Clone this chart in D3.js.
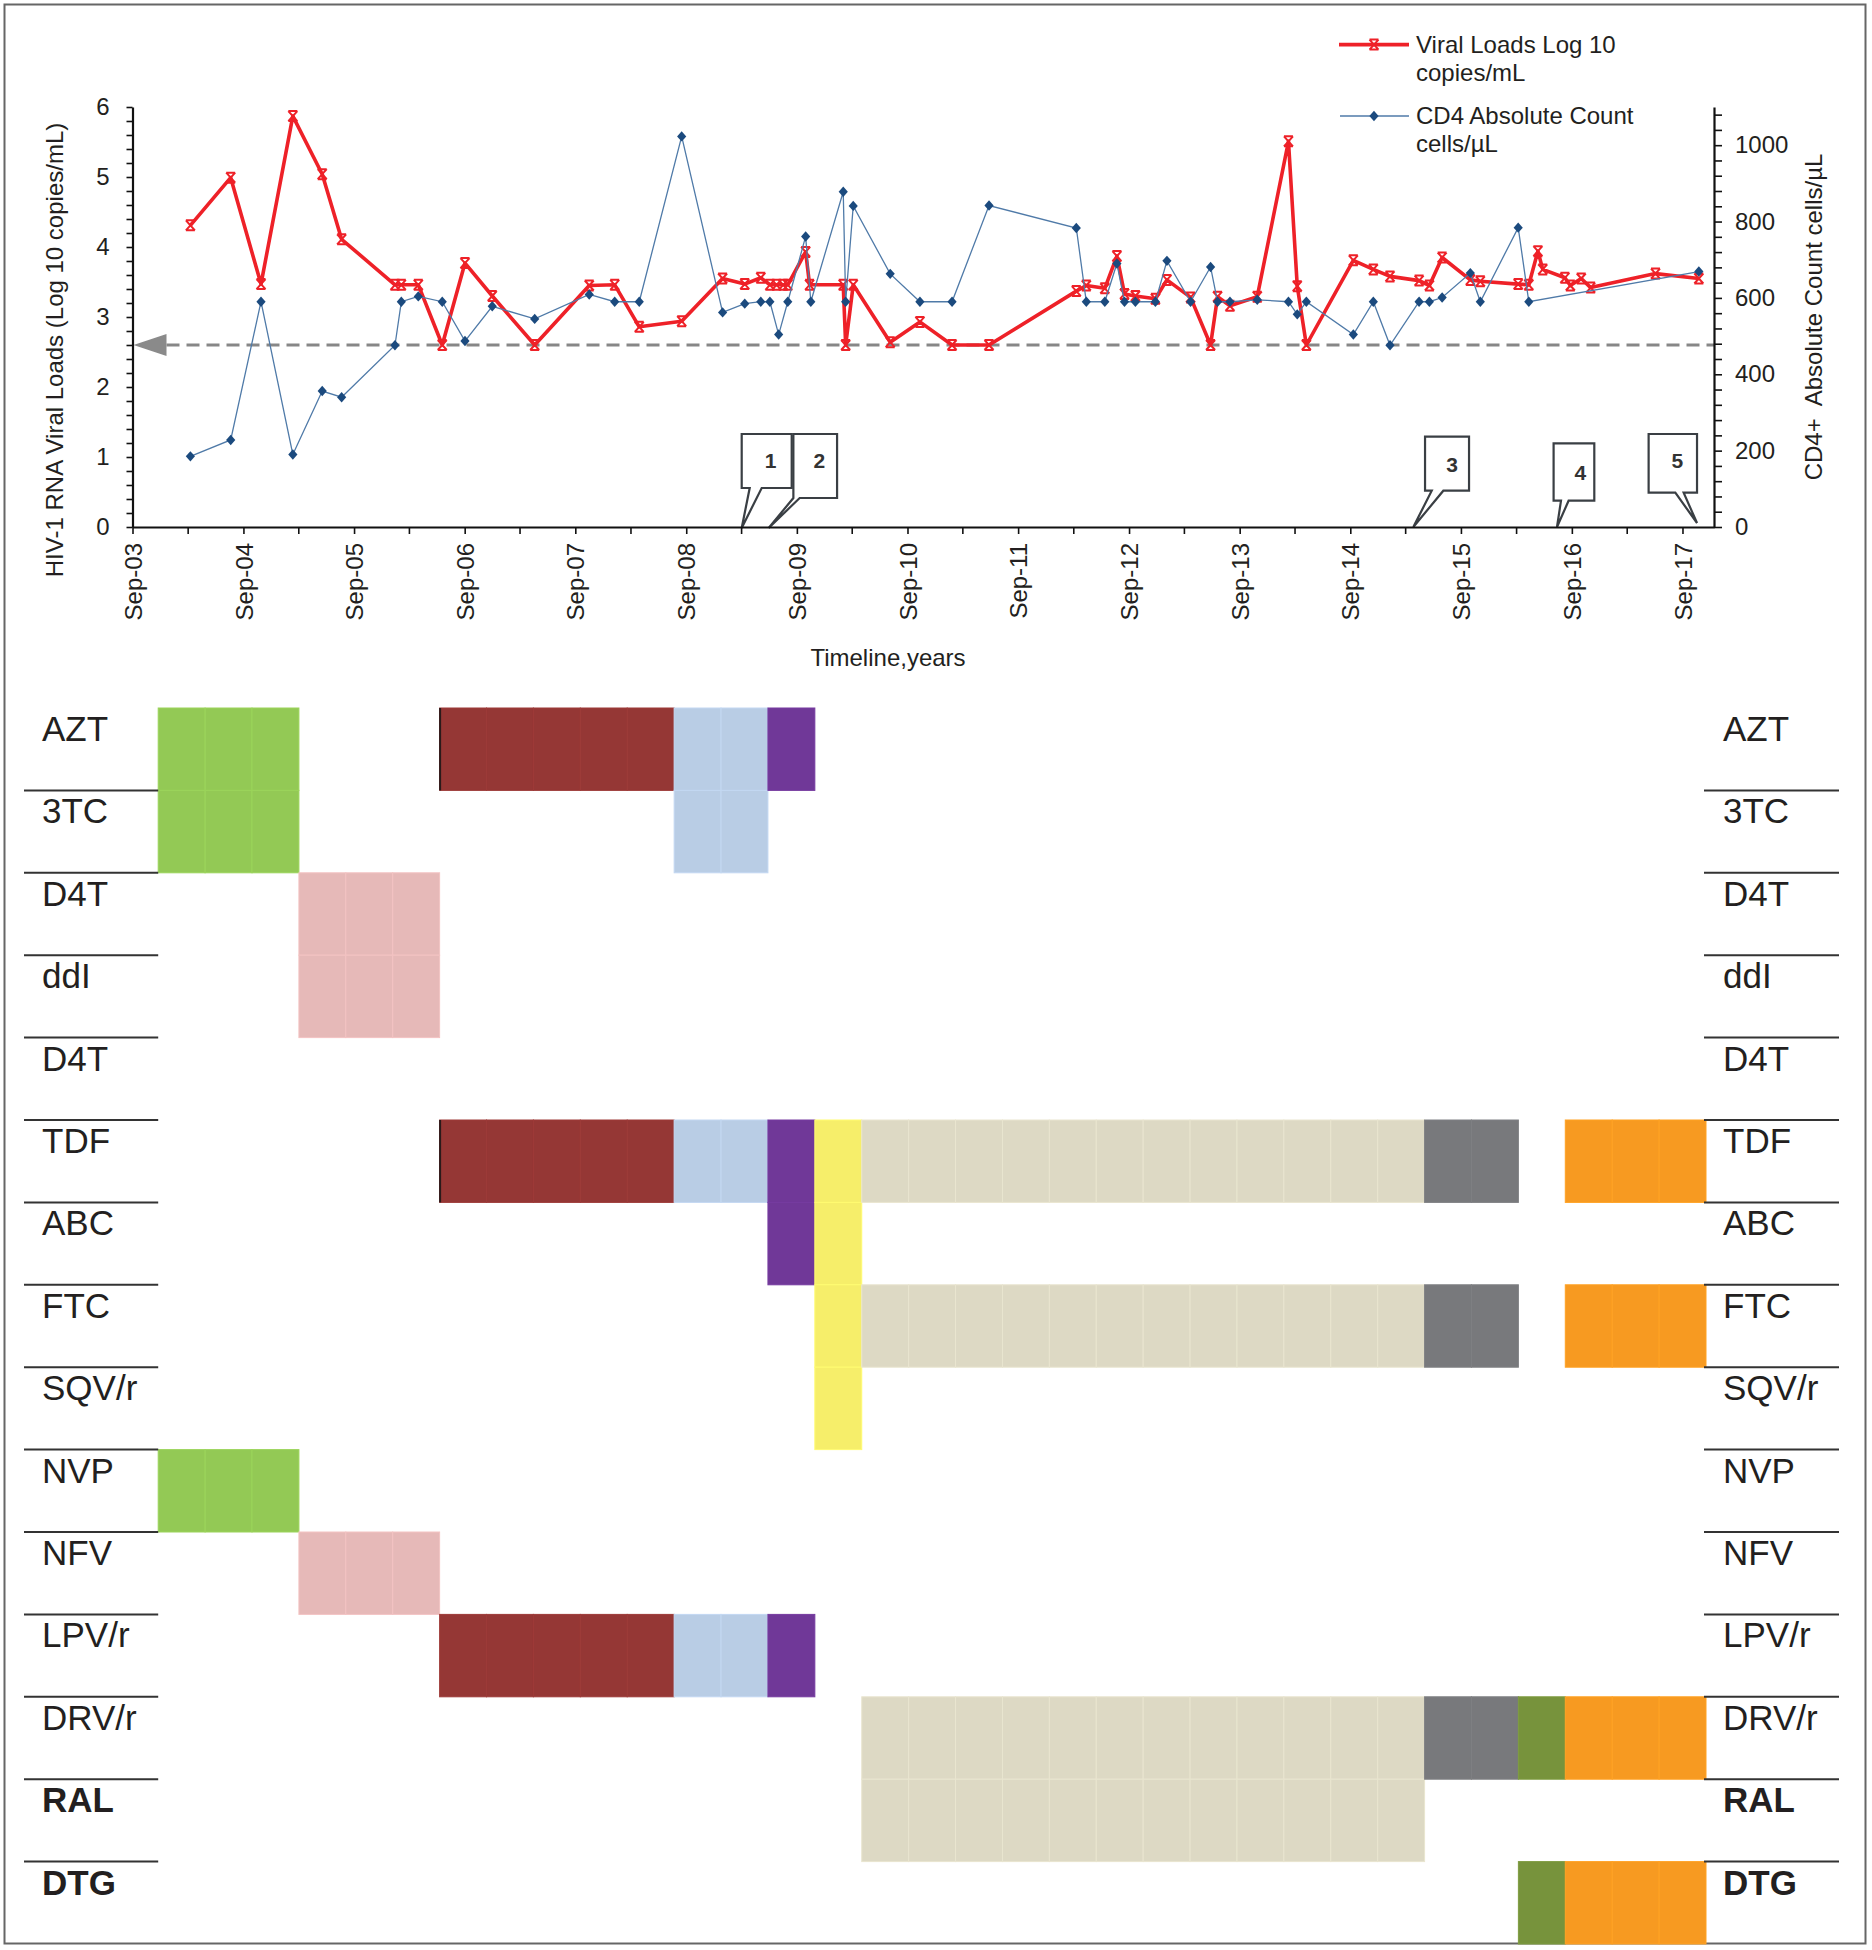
<!DOCTYPE html>
<html>
<head>
<meta charset="utf-8">
<script src="https://cdn.jsdelivr.net/npm/d3@7/dist/d3.min.js"></script>
<style>
  body { margin: 0; background: #fff; }
  svg { display: block; font-family: "Liberation Sans", Arial, sans-serif; }
</style>
</head>
<body>
<div id="chart"></div>
<script>
// viral load (log10 copies/mL), left axis
const vlDates = ["2004-03-10","2004-07-21","2004-10-29","2005-02-11","2005-05-19","2005-07-22","2006-01-14","2006-02-04","2006-04-01","2006-06-19",
  "2006-09-02","2006-12-01","2007-04-20","2007-10-17","2008-01-09","2008-03-30","2008-08-17","2008-12-30","2009-03-13","2009-05-05",
  "2009-06-04","2009-06-26","2009-07-18","2009-08-02","2009-09-30","2009-10-13","2010-02-01","2010-02-09","2010-03-06","2010-07-06",
  "2010-10-12","2011-01-26","2011-05-28","2012-03-11","2012-04-13","2012-06-13","2012-07-23","2012-08-17","2012-09-22","2012-11-27",
  "2013-01-04","2013-03-23","2013-05-28","2013-06-20","2013-07-31","2013-10-29","2014-02-09","2014-03-10","2014-04-09","2014-09-11",
  "2014-11-16","2015-01-10","2015-04-16","2015-05-20","2015-07-01","2015-10-02","2015-11-04","2016-03-08","2016-04-12","2016-05-12",
  "2016-05-28","2016-08-09","2016-08-27","2016-10-02","2016-11-02","2017-06-04","2017-10-25"];
const vlValues = [4.31,4.99,3.47,5.87,5.04,4.11,3.46,3.46,3.46,2.6,
  3.77,3.30,2.6,3.45,3.46,2.86,2.94,3.55,3.47,3.56,
  3.46,3.46,3.46,3.46,3.93,3.46,3.46,2.6,3.46,2.64,
  2.93,2.6,2.6,3.37,3.45,3.41,3.87,3.33,3.30,3.26,
  3.53,3.28,2.6,3.29,3.16,3.29,5.51,3.44,2.6,3.81,
  3.68,3.58,3.52,3.45,3.85,3.53,3.51,3.47,3.46,3.94,
  3.68,3.56,3.45,3.55,3.42,3.62,3.55];

// CD4 absolute count (cells/uL), right axis
const cd4Dates = ["2004-03-10","2004-07-21","2004-10-29","2005-02-11","2005-05-19","2005-07-22","2006-01-14","2006-02-04","2006-04-01","2006-06-19",
  "2006-09-02","2006-12-01","2007-04-20","2007-10-17","2008-01-09","2008-03-30","2008-08-17","2008-12-30","2009-03-13","2009-05-05",
  "2009-06-04","2009-07-03","2009-08-02","2009-09-30","2009-10-17","2010-02-01","2010-02-09","2010-03-06","2010-07-06","2010-10-12",
  "2011-01-26","2011-05-28","2012-03-11","2012-04-13","2012-06-13","2012-07-23","2012-08-17","2012-09-22","2012-11-27","2013-01-04",
  "2013-03-23","2013-05-28","2013-06-20","2013-07-31","2013-10-29","2014-02-09","2014-03-10","2014-04-09","2014-09-11","2014-11-16",
  "2015-01-10","2015-04-16","2015-05-20","2015-07-01","2015-10-02","2015-11-04","2016-03-08","2016-04-12","2017-10-25"];
const cd4Values = [185,228,590,190,356,340,476,590,604,590,
  487,578,545,609,590,590,1023,562,585,590,
  590,504,590,761,590,878,590,841,663,590,
  590,842,783,590,590,690,590,590,590,697,
  590,681,590,590,595,590,557,590,504,590,
  476,590,590,601,665,590,784,590,669];

const vlThreshold = 2.6;
const leftTicks = [0,1,2,3,4,5,6];
const rightTicks = [0,200,400,600,800,1000];

// numbered callouts on the timeline
const calloutLabels = ["1","2","3","4","5"];
const calloutDates = ["2009-03-03","2009-05-31","2015-03-28","2016-07-14","2017-10-19"];

// regimen table
const drugNames = ["AZT","3TC","D4T","ddI","D4T","TDF","ABC","FTC","SQV/r","NVP","NFV","LPV/r","DRV/r","RAL","DTG"];
const boldDrugs = ["RAL","DTG"];
const regimenCols = [[0,3],[3,6],[6,11],[11,13],[13,14],[14,15],[15,27],[27,29],[29,30],[30,33]];
const regimenRows = [[0,1,9],[2,3,10],[0,5,11],[0,1,5,11],[0,5,6,11],[5,6,7,8],[5,7,12,13],[5,7,12],[12,14],[5,7,12,14]];
const regimenColors = ["#93C955","#E6B9B8","#953735","#B9CDE5","#703898","#F6EE6A","#DDD9C4","#78797C","#77933C","#F79A21"];

const chart = {
  W: 1872, H: 1950,
  plot: { left: 132.5, right: 1714, top: 107, bottom: 527 },
  table: { top: 708, bottom: 1944, left: 158.2, right: 1706 },
  // box geometry per callout, px relative to the tip x
  calloutLayout: [
    { l: 0,     r: 50,   top: 434,   bot: 488,   a: 8,     b: 20,    tipY: 528, tx: 29,    ty: 468 },
    { l: 24.7,  r: 68.4, top: 434,   bot: 498,   a: 24.7,  b: 31,    tipY: 528, tx: 50.7,  ty: 468 },
    { l: 11.7,  r: 55.7, top: 436.7, bot: 490.7, a: 18.4,  b: 30,    tipY: 527, tx: 38.7,  ty: 472 },
    { l: -3.4,  r: 37.3, top: 443.3, bot: 500.7, a: 4,     b: 11.6,  tipY: 527, tx: 23.3,  ty: 480 },
    { l: -48.4, r: 0,    top: 434,   bot: 492.7, a: -21.7, b: -13.4, tipY: 523, tx: -19.7, ty: 468 }
  ],

setup() {
  this.svg = d3.select("#chart").append("svg")
    .attr("width", this.W).attr("height", this.H);
  this.svg.append("rect").attr("width", this.W).attr("height", this.H).attr("fill", "#fff");
  this.svg.append("rect")
    .attr("x", 4.5).attr("y", 4.5).attr("width", 1861).attr("height", 1939)
    .attr("fill", "none").attr("stroke", "#666").attr("stroke-width", 2);

  const p = this.plot;
  this.parse = d3.timeParse("%Y-%m-%d");
  this.x = d3.scaleTime()
    .domain([this.parse("2003-09-01"), this.parse("2017-12-14")])
    .range([p.left, p.right]);
  this.yL = d3.scaleLinear().domain([0, 6]).range([p.bottom, p.top]);
  this.yR = d3.scaleLinear().domain([0, 1100]).range([p.bottom, p.top]);
},

drawAxes() {
  const p = this.plot, x = this.x, yL = this.yL, yR = this.yR;
  const fmt = d3.timeFormat("%b-%y");

  // LEFT AXIS, minor every 0.2
  const gl = this.svg.append("g")
    .attr("transform", `translate(${p.left},0)`)
    .call(d3.axisLeft(yL)
      .tickValues(d3.range(0, 31).map(i => i / 5))
      .tickSize(6).tickSizeOuter(0).tickPadding(17)
      .tickFormat(d => leftTicks.includes(Math.round(d * 5) / 5) && Math.abs(d - Math.round(d)) < 1e-6 ? Math.round(d) : ""));

  // RIGHT AXIS, minor every 40
  const gr = this.svg.append("g")
    .attr("transform", `translate(${p.right},0)`)
    .call(d3.axisRight(yR)
      .tickValues(d3.range(0, 1081, 40))
      .tickSize(8).tickSizeOuter(0).tickPadding(13)
      .tickFormat(d => rightTicks.includes(d) ? d : ""));

  // X AXIS, ticks every 6 months, labels every September
  const gx = this.svg.append("g")
    .attr("transform", `translate(0,${p.bottom})`)
    .call(d3.axisBottom(x)
      .tickValues(d3.timeMonth.range(this.parse("2003-09-01"), x.domain()[1], 6))
      .tickSize(7).tickSizeOuter(0)
      .tickFormat(d => d.getMonth() === 8 ? fmt(d) : ""));
  gx.selectAll(".tick text")
    .attr("transform", "rotate(-90)")
    .attr("x", -16).attr("y", 0).attr("dy", "0.36em")
    .style("text-anchor", "end");

  [gl, gr, gx].forEach(g => {
    g.attr("color", "#111").attr("font-size", 24)
      .attr("font-family", "'Liberation Sans', Arial, sans-serif");
    g.select(".domain").attr("stroke-width", 2.2);
    g.selectAll(".tick line").attr("stroke-width", 1.6);
    g.selectAll(".tick text").attr("fill", "#231f20");
  });

  // TITLES
  this.svg.append("text")
    .attr("transform", "translate(62.5,350) rotate(-90)")
    .attr("text-anchor", "middle").attr("font-size", 24).attr("fill", "#231f20")
    .text("HIV-1 RNA Viral Loads (Log 10 copies/mL)");
  this.svg.append("text")
    .attr("transform", "translate(1822,317) rotate(-90)")
    .attr("text-anchor", "middle").attr("font-size", 24).attr("fill", "#231f20")
    .attr("xml:space", "preserve")
    .text("CD4+  Absolute Count cells/\u00B5L");
  this.svg.append("text")
    .attr("x", 888).attr("y", 666)
    .attr("text-anchor", "middle").attr("font-size", 24).attr("fill", "#231f20")
    .text("Timeline,years");
},

drawSeries() {
  const p = this.plot, x = this.x, yL = this.yL, yR = this.yR, parse = this.parse;
  const vlMark = "M-4.5,-5H4.5M-4.5,5H4.5M-4.5,-5L4.5,5M4.5,-5L-4.5,5";

  // THRESHOLD LINE + ARROW
  const ty = yL(vlThreshold);
  this.svg.append("line")
    .attr("x1", p.left + 34).attr("x2", p.right)
    .attr("y1", ty).attr("y2", ty)
    .attr("stroke", "#878787").attr("stroke-width", 3)
    .attr("stroke-dasharray", "13,7");
  this.svg.append("path")
    .attr("d", `M${p.left + 1},${ty} L${p.left + 34},${ty - 11} L${p.left + 34},${ty + 11} Z`)
    .attr("fill", "#8a8a8a");

  const vl = vlDates.map((d, i) => ({ date: parse(d), v: vlValues[i] }));
  const cd4 = cd4Dates.map((d, i) => ({ date: parse(d), v: cd4Values[i] }));

  // VIRAL LOAD
  this.svg.append("path").datum(vl)
    .attr("fill", "none").attr("stroke", "#EE2128").attr("stroke-width", 3.6)
    .attr("stroke-linejoin", "round")
    .attr("d", d3.line().x(d => x(d.date)).y(d => yL(d.v)));
  this.svg.append("g").selectAll("path").data(vl).enter().append("path")
    .attr("transform", d => `translate(${x(d.date)},${yL(d.v)})`)
    .attr("d", vlMark)
    .attr("stroke", "#EE2128").attr("stroke-width", 2).attr("fill", "none");

  // CD4
  this.svg.append("path").datum(cd4)
    .attr("fill", "none").attr("stroke", "#4f7aa8").attr("stroke-width", 1.3)
    .attr("d", d3.line().x(d => x(d.date)).y(d => yR(d.v)));
  this.svg.append("g").selectAll("path").data(cd4).enter().append("path")
    .attr("transform", d => `translate(${x(d.date)},${yR(d.v)})`)
    .attr("d", "M0,-5.2L4.6,0L0,5.2L-4.6,0Z")
    .attr("fill", "#1b4a7e");

  // LEGEND
  const lg = this.svg.append("g").attr("font-size", 24).attr("fill", "#231f20");
  lg.append("line").attr("x1", 1339).attr("x2", 1409).attr("y1", 44.6).attr("y2", 44.6)
    .attr("stroke", "#EE2128").attr("stroke-width", 3.6);
  lg.append("path").attr("transform", "translate(1374,44.6)")
    .attr("d", vlMark).attr("stroke", "#EE2128").attr("stroke-width", 2);
  lg.append("text").attr("x", 1416).attr("y", 53).text("Viral Loads Log 10");
  lg.append("text").attr("x", 1416).attr("y", 81).text("copies/mL");
  lg.append("line").attr("x1", 1340).attr("x2", 1409).attr("y1", 116).attr("y2", 116)
    .attr("stroke", "#4f7aa8").attr("stroke-width", 1.3);
  lg.append("path").attr("transform", "translate(1374,116)")
    .attr("d", "M0,-5.2L4.6,0L0,5.2L-4.6,0Z").attr("fill", "#1b4a7e");
  lg.append("text").attr("x", 1416).attr("y", 124).text("CD4 Absolute Count");
  lg.append("text").attr("x", 1416).attr("y", 152).text("cells/\u00B5L");
},

drawCallouts() {
  const x = this.x, parse = this.parse, lay = this.calloutLayout;
  const g = this.svg.append("g");
  calloutLabels.forEach((lab, i) => {
    const c = lay[i], tx = x(parse(calloutDates[i]));
    const d = `M${tx + c.l},${c.top} H${tx + c.r} V${c.bot} H${tx + c.b} L${tx},${c.tipY} L${tx + c.a},${c.bot} H${tx + c.l} Z`;
    g.append("path").attr("d", d)
      .attr("fill", "#fff").attr("stroke", "#3a3f44").attr("stroke-width", 2.2)
      .attr("stroke-linejoin", "miter");
    g.append("text").attr("x", tx + c.tx).attr("y", c.ty)
      .attr("text-anchor", "middle").attr("font-size", 21).attr("font-weight", "bold")
      .attr("fill", "#333").text(lab);
  });
},

drawTable() {
  const t = this.table;
  const rowY = d3.scaleLinear().domain([0, drugNames.length]).range([t.top, t.bottom]);
  const colX = d3.scaleLinear().domain([0, 33]).range([t.left, t.right]);
  const g = this.svg.append("g");

  regimenCols.forEach((cols, r) => {
    const fill = regimenColors[r];
    const edge = d3.color(fill).brighter(0.15).formatHex();
    regimenRows[r].forEach(row => {
      d3.range(cols[0], cols[1]).forEach(c => {
        g.append("rect")
          .attr("x", colX(c)).attr("y", rowY(row))
          .attr("width", colX(c + 1) - colX(c)).attr("height", rowY(row + 1) - rowY(row))
          .attr("fill", fill).attr("stroke", edge).attr("stroke-width", 1);
      });
    });
  });

  // dark start edge of the dark red regimen (AZT and TDF rows)
  [0, 5].forEach(row => {
    g.append("line")
      .attr("x1", colX(regimenCols[2][0]) + 0.5).attr("x2", colX(regimenCols[2][0]) + 0.5)
      .attr("y1", rowY(row)).attr("y2", rowY(row + 1))
      .attr("stroke", "#2a1a1a").attr("stroke-width", 2);
  });

  // row separators and labels, both sides
  drugNames.forEach((name, i) => {
    if (i > 0) {
      [[24, t.left], [t.right - 2, 1839]].forEach(s => {
        g.append("line").attr("x1", s[0]).attr("x2", s[1])
          .attr("y1", rowY(i)).attr("y2", rowY(i))
          .attr("stroke", "#333").attr("stroke-width", 2);
      });
    }
    [42, 1723].forEach(lx => {
      g.append("text").attr("x", lx).attr("y", rowY(i) + 33)
        .attr("font-size", 35).attr("fill", "#231f20")
        .attr("font-weight", boldDrugs.includes(name) ? "bold" : "normal")
        .text(name);
    });
  });
},

init() {
  this.setup();
  this.drawTable();
  this.drawSeries();
  this.drawCallouts();
  this.drawAxes();
}
};

chart.init();
</script>
</body>
</html>
